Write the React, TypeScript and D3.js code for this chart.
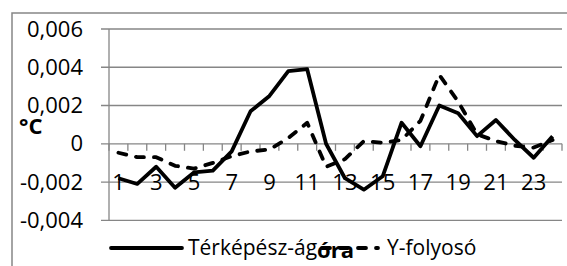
import * as d3 from 'd3';

const hours = ['1', '2', '3', '4', '5', '6', '7', '8', '9', '10', '11', '12',
  '13', '14', '15', '16', '17', '18', '19', '20', '21', '22', '23', '24'];

const terkepesz = [-0.0018, -0.0021, -0.0012, -0.0023, -0.0015, -0.0014, -0.0004, 0.0017,
  0.0025, 0.0038, 0.0039, 0.0, -0.0018, -0.0024, -0.0017, 0.0011, -0.00013, 0.002,
  0.0016, 0.0004, 0.00124, 0.0002, -0.00073, 0.0004];

const folyoso = [-0.00047, -0.0007, -0.0007, -0.00115, -0.0013, -0.001, -0.00065, -0.0004,
  -0.0003, 0.0003, 0.0011, -0.0012, -0.0008, 0.00014, 0.00005, 0.0002, 0.0012, 0.0036,
  0.0022, 0.0005, 0.00014, -0.0001, -0.0002, 0.0002];

const yTicks = [-0.004, -0.002, 0, 0.002, 0.004, 0.006];
const yTickLabels = ['-0,004', '-0,002', '0', '0,002', '0,004', '0,006'];

const seriesNames = ['Térképész-ág', 'Y-folyosó'];

const W = 567;
const H = 266;
const plot = { left: 109, right: 562, top: 29, bottom: 220.3 };
const font = 'Open Sans, sans-serif';
const grid = '#868686';
const tickSize = 22;
const legendSize = 21;

export default function App() {
  const x = d3.scaleBand().domain(hours).range([plot.left, plot.right]);
  const y = d3.scaleLinear().domain([-0.004, 0.006]).range([plot.bottom, plot.top]);
  const cx = (h: string) => x(h)! + x.bandwidth() / 2;

  const line = d3
    .line<number>()
    .x((_, i) => cx(hours[i]))
    .y((d) => y(d));

  const zeroY = y(0);
  const boundaries = hours.map((h) => x(h)!).concat([plot.right]);

  return (
    <svg width={W} height={H} style={{ position: 'absolute', left: 0, top: 0, background: '#fff' }}>
      <rect x={12} y={13} width={W + 10} height={H + 10} fill="#fff" stroke={grid} strokeWidth={1.5} />

      {yTicks.map((t, i) => (
        <g key={t}>
          <line x1={plot.left - 8} x2={plot.right} y1={y(t)} y2={y(t)} stroke={grid} strokeWidth={1.3} />
          <text
            x={83}
            y={y(t)}
            dy="0.35em"
            textAnchor="end"
            fontFamily={font}
            fontSize={tickSize}
            fill="#000"
          >
            {yTickLabels[i]}
          </text>
        </g>
      ))}

      <line x1={plot.left} x2={plot.left} y1={plot.top} y2={plot.bottom} stroke={grid} strokeWidth={1.3} />

      {boundaries.map((b, i) => (
        <line key={i} x1={b} x2={b} y1={zeroY} y2={zeroY + 7} stroke={grid} strokeWidth={1.3} />
      ))}

      {hours.map((h, i) =>
        i % 2 === 0 ? (
          <text
            key={h}
            x={cx(h)}
            y={182}
            dy="0.35em"
            textAnchor="middle"
            fontFamily={font}
            fontSize={tickSize}
            fill="#000"
          >
            {h}
          </text>
        ) : null
      )}

      <path d={line(folyoso)!} fill="none" stroke="#000" strokeWidth={3.8}
        strokeDasharray="8 10" strokeLinecap="round" strokeLinejoin="round" />
      <path d={line(terkepesz)!} fill="none" stroke="#000" strokeWidth={3.8}
        strokeLinejoin="round" />

      <text x={19} y={134} fontFamily={font} fontSize={22} fontWeight="bold" fill="#000">°C</text>

      <line x1={111} x2={182} y1={248} y2={248} stroke="#000" strokeWidth={3.8} strokeLinecap="round" />
      <text x={188} y={248} dy="0.35em" fontFamily={font} fontSize={legendSize} fill="#000">{seriesNames[0]}</text>

      <text x={(plot.left + plot.right) / 2} y={258} textAnchor="middle" fontFamily={font} fontSize={22}
        fontWeight="bold" fill="#000">óra</text>

      <line x1={322} x2={378} y1={248} y2={248} stroke="#000" strokeWidth={3.8}
        strokeDasharray="8 10" strokeLinecap="round" />
      <text x={387} y={248} dy="0.35em" fontFamily={font} fontSize={legendSize} fill="#000">{seriesNames[1]}</text>
    </svg>
  );
}
